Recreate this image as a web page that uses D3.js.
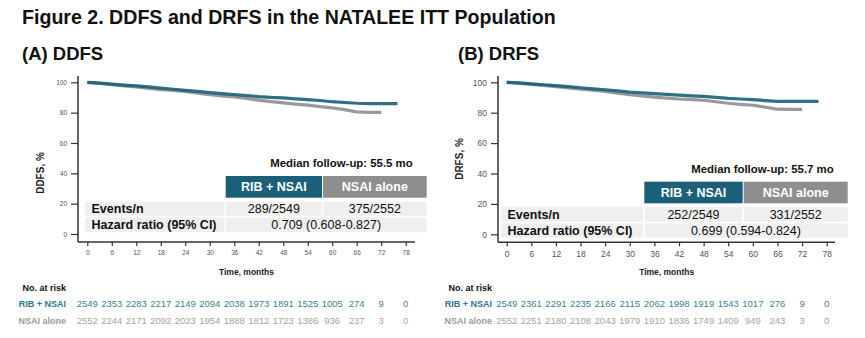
<!DOCTYPE html>
<html>
<head>
<meta charset="utf-8">
<script src="https://cdn.jsdelivr.net/npm/d3@7"></script>
<style>
  body { margin: 0; background: #fff; }
  svg { font-family: "Liberation Sans", Arial, sans-serif; }
</style>
</head>
<body>
<div id="chart"></div>
<script>
// --- data -------------------------------------------------------------
var tickMonths = [0, 6, 12, 18, 24, 30, 36, 42, 48, 54, 60, 66, 72, 78];
var yTicks = [0, 20, 40, 60, 80, 100];
var armNames = ['RIB + NSAI', 'NSAI alone'];

var ribMonths = [0, 3, 6, 9, 12, 15, 18, 21, 24, 27, 30, 33, 36, 39, 42, 45, 48, 51, 54, 57, 60, 63, 66, 69, 72, 76];
var nsaiMonths = [0, 3, 6, 9, 12, 15, 18, 21, 24, 27, 30, 33, 36, 39, 42, 45, 48, 51, 54, 57, 60, 63, 66, 69, 72];

var ddfsRib = [100, 99.5, 98.8, 98.2, 97.6, 97.0, 96.2, 95.4, 94.7, 94.0, 93.2, 92.5, 91.9, 91.2, 90.5, 90.0, 89.7, 89.1, 88.6, 88.0, 87.2, 86.7, 86.2, 86.0, 86.0, 86.0];
var ddfsNsai = [100, 99.3, 98.5, 97.7, 96.9, 96.0, 95.2, 94.6, 94.0, 92.8, 91.8, 91.0, 90.3, 89.3, 88.2, 87.3, 86.4, 85.6, 84.9, 84.0, 83.1, 82.0, 80.5, 80.2, 80.2];
var drfsRib = [100, 99.6, 99.0, 98.4, 97.8, 97.1, 96.4, 95.7, 95.1, 94.3, 93.5, 93.0, 92.5, 92.0, 91.5, 91.1, 90.8, 90.1, 89.4, 89.0, 88.6, 88.0, 87.5, 87.4, 87.4, 87.4];
var drfsNsai = [100, 99.3, 98.6, 97.9, 97.2, 96.3, 95.5, 94.8, 94.0, 92.8, 91.8, 91.0, 90.3, 89.6, 89.0, 88.6, 88.2, 87.2, 86.2, 85.5, 84.9, 83.7, 82.3, 82.2, 82.2];

var ddfsRiskRib = [2549, 2353, 2283, 2217, 2149, 2094, 2038, 1973, 1891, 1525, 1005, 274, 9, 0];
var ddfsRiskNsai = [2552, 2244, 2171, 2092, 2023, 1954, 1888, 1812, 1723, 1386, 936, 237, 3, 0];
var drfsRiskRib = [2549, 2361, 2291, 2235, 2166, 2115, 2062, 1998, 1919, 1543, 1017, 276, 9, 0];
var drfsRiskNsai = [2552, 2251, 2180, 2108, 2043, 1979, 1910, 1836, 1749, 1409, 949, 243, 3, 0];

var ddfsEvents = ['289/2549', '375/2552'];
var drfsEvents = ['252/2549', '331/2552'];
var ddfsHR = '0.709 (0.608-0.827)';
var drfsHR = '0.699 (0.594-0.824)';

var BLUE = '#1b5f78';
var GREY = '#8e8e8e';
var BLUE_TEXT = '#3d7f96';
var GREY_TEXT = '#a3a3a3';

var W = 865, H = 338;
var svg = d3.select('#chart').append('svg').attr('width', W).attr('height', H);

svg.append('text')
  .attr('x', 22).attr('y', 24)
  .attr('font-size', 19.6).attr('font-weight', 'bold').attr('fill', '#111')
  .text('Figure 2. DDFS and DRFS in the NATALEE ITT Population');

var panels = [
  {
    title: '(A) DDFS', titleX: 22, yLabel: 'DDFS, %', yLabelX: 40, yLabelY: 173,
    x0: 87.3, x1: 405.7, yTop: 82.3, yBot: 234, axisX: 78, axisY: 242, axisEnd: 415,
    tickFont: 6.5, tickLabelY: 255,
    rib: ddfsRib, nsai: ddfsNsai, riskRib: ddfsRiskRib, riskNsai: ddfsRiskNsai,
    events: ddfsEvents, hr: ddfsHR, median: 'Median follow-up: 55.5 mo',
    tbl: { left: 85, c1: 225.7, c2: 323, right: 426.7, hTop: 176, hBot: 197.7, r1: [201.7, 215.7], r2: [217.3, 232.3] },
    riskLabelRight: 66
  },
  {
    title: '(B) DRFS', titleX: 458, yLabel: 'DRFS, %', yLabelX: 459, yLabelY: 159,
    x0: 506.7, x1: 826.7, yTop: 82.3, yBot: 234.3, axisX: 498, axisY: 242.3, axisEnd: 835,
    tickFont: 8.5, tickLabelY: 257.5,
    rib: drfsRib, nsai: drfsNsai, riskRib: drfsRiskRib, riskNsai: drfsRiskNsai,
    events: drfsEvents, hr: drfsHR, median: 'Median follow-up: 55.7 mo',
    tbl: { left: 501, c1: 644.3, c2: 743.7, right: 847.7, hTop: 181.7, hBot: 203.3, r1: [206.7, 221.7], r2: [223.3, 237.7] },
    riskLabelRight: 492
  }
];

panels.forEach(drawPanel);

function drawPanel(p) {
  var g = svg.append('g');
  var x = d3.scaleLinear().domain([0, 78]).range([p.x0, p.x1]);
  var y = d3.scaleLinear().domain([0, 100]).range([p.yBot, p.yTop]);

  g.append('text')
    .attr('x', p.titleX).attr('y', 60)
    .attr('font-size', 18.5).attr('font-weight', 'bold').attr('fill', '#111')
    .text(p.title);

  // axes
  var yAxis = d3.axisLeft(y).tickValues(yTicks).tickSize(7).tickPadding(4);
  var yg = g.append('g').attr('transform', 'translate(' + p.axisX + ',0)').call(yAxis);
  var xAxis = d3.axisBottom(x).tickValues(tickMonths).tickSize(4).tickPadding(p.tickLabelY - p.axisY - 4 - p.tickFont * 0.71);
  var xg = g.append('g').attr('transform', 'translate(0,' + p.axisY + ')').call(xAxis);
  [yg, xg].forEach(function(a) {
    a.select('.domain').remove();
    a.selectAll('line').attr('stroke', '#333').attr('stroke-width', 1.2);
    a.selectAll('text').attr('font-size', p.tickFont).attr('fill', '#555').attr('font-family', '"Liberation Sans", Arial, sans-serif');
  });
  g.append('line').attr('x1', p.axisX).attr('x2', p.axisX).attr('y1', 76).attr('y2', p.axisY)
    .attr('stroke', '#333').attr('stroke-width', 1.5);
  g.append('line').attr('x1', p.axisX).attr('x2', p.axisEnd).attr('y1', p.axisY).attr('y2', p.axisY)
    .attr('stroke', '#333').attr('stroke-width', 1.5);

  g.append('text')
    .attr('transform', 'translate(' + p.yLabelX + ',' + p.yLabelY + ') rotate(-90)')
    .attr('text-anchor', 'middle').attr('dy', '0.35em')
    .attr('font-size', 10).attr('font-weight', 'bold').attr('fill', '#222')
    .text(p.yLabel);

  g.append('text')
    .attr('x', (p.x0 + p.x1) / 2).attr('y', 275)
    .attr('text-anchor', 'middle')
    .attr('font-size', 8.5).attr('font-weight', 'bold').attr('fill', '#222')
    .text('Time, months');

  // survival curves
  var line = d3.line()
    .x(function(d) { return x(d[0]); })
    .y(function(d) { return y(d[1]); });
  g.append('path')
    .datum(d3.zip(nsaiMonths, p.nsai))
    .attr('d', line).attr('fill', 'none')
    .attr('stroke', GREY).attr('stroke-width', 3.2).attr('opacity', 0.9);
  g.append('path')
    .datum(d3.zip(ribMonths, p.rib))
    .attr('d', line).attr('fill', 'none')
    .attr('stroke', BLUE).attr('stroke-width', 3.2).attr('opacity', 0.9);

  // summary table
  var t = p.tbl;
  g.append('text')
    .attr('x', t.right - 14).attr('y', t.hTop - 9)
    .attr('text-anchor', 'end')
    .attr('font-size', 11.4).attr('font-weight', 'bold').attr('fill', '#111')
    .text(p.median);

  var heads = [[t.c1, t.c2 - 1, BLUE], [t.c2, t.right, GREY]];
  heads.forEach(function(h, i) {
    g.append('rect').attr('x', h[0]).attr('y', t.hTop).attr('width', h[1] - h[0]).attr('height', t.hBot - t.hTop).attr('fill', h[2]);
    g.append('text')
      .attr('x', (h[0] + h[1]) / 2).attr('y', (t.hTop + t.hBot) / 2).attr('dy', '0.35em')
      .attr('text-anchor', 'middle')
      .attr('font-size', 12.5).attr('font-weight', 'bold').attr('fill', '#fff')
      .text(armNames[i]);
  });

  var rows = [t.r1, t.r2];
  rows.forEach(function(r) {
    g.append('rect').attr('x', t.left).attr('y', r[0]).attr('width', t.right - t.left).attr('height', r[1] - r[0]).attr('fill', '#efefef');
  });
  [t.c1, t.c2].forEach(function(cx) {
    g.append('line').attr('x1', cx - 0.5).attr('x2', cx - 0.5).attr('y1', t.r1[0]).attr('y2', t.r2[1])
      .attr('stroke', '#fff').attr('stroke-width', 1.5);
  });
  g.append('line').attr('x1', t.c2 - 0.5).attr('x2', t.c2 - 0.5).attr('y1', t.r2[0]).attr('y2', t.r2[1])
    .attr('stroke', '#efefef').attr('stroke-width', 2);

  var labelX = t.left + 6.5;
  g.append('text').attr('x', labelX).attr('y', (t.r1[0] + t.r1[1]) / 2).attr('dy', '0.35em')
    .attr('font-size', 12.5).attr('font-weight', 'bold').attr('fill', '#111').text('Events/n');
  g.append('text').attr('x', labelX).attr('y', (t.r2[0] + t.r2[1]) / 2).attr('dy', '0.35em')
    .attr('font-size', 12.5).attr('font-weight', 'bold').attr('fill', '#111').text('Hazard ratio (95% CI)');
  p.events.forEach(function(ev, i) {
    var h = heads[i];
    g.append('text').attr('x', (h[0] + h[1]) / 2).attr('y', (t.r1[0] + t.r1[1]) / 2).attr('dy', '0.35em')
      .attr('text-anchor', 'middle').attr('font-size', 12.5).attr('fill', '#111').text(ev);
  });
  g.append('text').attr('x', (t.c1 + t.right) / 2).attr('y', (t.r2[0] + t.r2[1]) / 2).attr('dy', '0.35em')
    .attr('text-anchor', 'middle').attr('font-size', 12.5).attr('fill', '#111').text(p.hr);

  // number at risk
  g.append('text').attr('x', p.riskLabelRight).attr('y', 288).attr('dy', '0.35em')
    .attr('text-anchor', 'end').attr('font-size', 9).attr('font-weight', 'bold').attr('fill', '#111')
    .text('No. at risk');
  var riskRows = [[p.riskRib, BLUE_TEXT, 304, armNames[0], '#2f7590'], [p.riskNsai, GREY_TEXT, 320.5, armNames[1], '#9a9a9a']];
  riskRows.forEach(function(rr) {
    g.append('text').attr('x', p.riskLabelRight).attr('y', rr[2]).attr('dy', '0.35em')
      .attr('text-anchor', 'end').attr('font-size', 9).attr('font-weight', 'bold').attr('fill', rr[4])
      .text(rr[3]);
    g.selectAll(null).data(rr[0]).enter().append('text')
      .attr('x', function(d, i) { return x(tickMonths[i]); })
      .attr('y', rr[2]).attr('dy', '0.35em')
      .attr('text-anchor', 'middle').attr('font-size', 9.5).attr('fill', rr[1])
      .text(function(d) { return d; });
  });
}
</script>
</body>
</html>
